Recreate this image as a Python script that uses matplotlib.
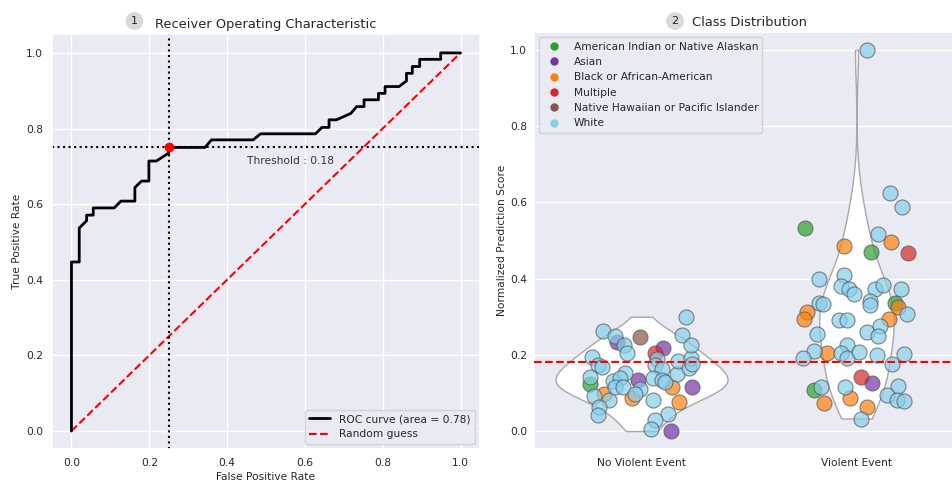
import numpy as np
import pandas as pd
import matplotlib
matplotlib.use('Agg')
import matplotlib.pyplot as plt
import seaborn as sns
from matplotlib.lines import Line2D

sns.set_theme(style='darkgrid')
plt.rcParams['font.family'] = ['DejaVu Sans']

# ROC curve
fpr = [0, 0, 0.02, 0.02, 0.039, 0.039, 0.056, 0.056, 0.11, 0.127, 0.163, 0.163,
       0.18, 0.199, 0.199, 0.218, 0.25, 0.25, 0.343, 0.36, 0.467, 0.486, 0.627,
       0.644, 0.662, 0.662, 0.681, 0.718, 0.733, 0.752, 0.752, 0.789, 0.789,
       0.806, 0.806, 0.842, 0.861, 0.861, 0.876, 0.876, 0.895, 0.895, 0.949,
       0.949, 1.0]
tpr = [0, 0.447, 0.447, 0.537, 0.556, 0.571, 0.571, 0.59, 0.59, 0.608, 0.608,
       0.644, 0.661, 0.661, 0.714, 0.714, 0.735, 0.75, 0.75, 0.77, 0.77, 0.786,
       0.786, 0.803, 0.803, 0.823, 0.823, 0.84, 0.858, 0.858, 0.876, 0.876,
       0.893, 0.893, 0.911, 0.911, 0.926, 0.946, 0.946, 0.964, 0.964, 0.983,
       0.983, 1.0, 1.0]
best_fpr, best_tpr = 0.25, 0.75
threshold = 0.18
auc_label = 'ROC curve (area = 0.78)'

groups = ['No Violent Event', 'Violent Event']
races = ['American Indian or Native Alaskan', 'Asian', 'Black or African-American',
         'Multiple', 'Native Hawaiian or Pacific Islander', 'White']
race_colors = ['#2ca02c', '#7434a6', '#ff7f0e', '#d62728', '#8c564b', '#87ceeb']

# race index: 0 AI/AN, 1 Asian, 2 Black, 3 Multiple, 4 NH/PI, 5 White
no_event_score = [0.262, 0.249, 0.234, 0.225, 0.206, 0.195, 0.173, 0.168, 0.142,
                  0.123, 0.093, 0.096, 0.081, 0.063, 0.043, 0.132, 0.153, 0.139,
                  0.116, 0.116, 0.088, 0.135, 0.247, 0.111, 0.098, 0.204, 0.218,
                  0.190, 0.173, 0.164, 0.139, 0.133, 0.116, 0.129, 0.082, 0.046,
                  0.028, 0.006, 0.000, 0.076, 0.116, 0.149, 0.184, 0.166, 0.193,
                  0.177, 0.252, 0.227, 0.300]
no_event_jitter = [-0.179, -0.124, -0.116, -0.082, -0.067, -0.230, -0.202, -0.182,
                   -0.241, -0.241, -0.222, -0.175, -0.149, -0.199, -0.203, -0.132,
                   -0.078, -0.101, -0.121, -0.085, -0.043, -0.016, -0.008, -0.008,
                   -0.031, 0.061, 0.101, 0.073, 0.065, 0.096, 0.054, 0.096, 0.143,
                   0.110, 0.054, 0.124, 0.065, 0.042, 0.135, 0.174, 0.236, 0.163,
                   0.171, 0.221, 0.231, 0.236, 0.189, 0.231, 0.205]
no_event_race = [5, 5, 1, 5, 5, 5, 5, 5, 5, 0, 5, 2, 5, 5, 5, 5, 5, 5, 5, 5, 2, 1,
                 4, 5, 5, 3, 1, 5, 5, 5, 5, 5, 2, 5, 5, 5, 5, 5, 1, 2, 1, 5, 5, 5,
                 5, 5, 5, 5, 5]

event_score = [1.000, 0.624, 0.587, 0.534, 0.517, 0.497, 0.486, 0.471, 0.466,
               0.398, 0.409, 0.381, 0.373, 0.360, 0.373, 0.383, 0.374, 0.342,
               0.331, 0.337, 0.333, 0.337, 0.326, 0.307, 0.313, 0.293, 0.291,
               0.291, 0.294, 0.256, 0.261, 0.277, 0.249, 0.227, 0.211, 0.191,
               0.204, 0.206, 0.191, 0.208, 0.200, 0.201, 0.175, 0.143, 0.127,
               0.116, 0.109, 0.115, 0.118, 0.094, 0.081, 0.080, 0.073, 0.088,
               0.062, 0.033]
event_jitter = [0.048, 0.156, 0.211, -0.240, 0.102, 0.160, -0.060, 0.066, 0.240,
                -0.175, -0.060, -0.070, -0.034, -0.011, 0.085, 0.121, 0.206, 0.063,
                0.063, -0.174, -0.155, 0.178, 0.191, 0.234, -0.231, -0.244, -0.081,
                -0.045, 0.152, -0.185, 0.051, 0.110, 0.101, -0.042, -0.200, -0.248,
                -0.135, -0.073, -0.045, 0.012, 0.094, 0.219, 0.167, 0.020, 0.071,
                -0.163, -0.200, -0.053, 0.191, 0.144, 0.187, 0.219, -0.153, -0.031,
                0.047, 0.020]
event_race = [5, 5, 5, 0, 5, 2, 2, 0, 3, 5, 5, 5, 5, 5, 5, 5, 5, 5, 5, 5, 5, 0, 2,
              5, 2, 2, 5, 5, 2, 5, 5, 5, 5, 5, 5, 5, 2, 5, 5, 5, 5, 5, 5, 3, 1, 5,
              0, 5, 5, 5, 5, 5, 2, 2, 2, 5]

small = 7.7
fig = plt.figure(figsize=(9.52, 4.84), dpi=100)
ax1 = fig.add_axes([52 / 952, 35 / 484, 428 / 952, 415 / 484])
ax2 = fig.add_axes([534 / 952, 35 / 484, 430 / 952, 417 / 484])

# --- ROC panel
ax1.plot(fpr, tpr, color='black', lw=2, label=auc_label, zorder=3)
ax1.plot([0, 1], [0, 1], color='red', ls='--', lw=1.5, label='Random guess')
ax1.axvline(best_fpr, color='black', ls=':', lw=1.5)
ax1.axhline(best_tpr, color='black', ls=':', lw=1.5)
ax1.plot(best_fpr, best_tpr, 'o', color='red', ms=6, zorder=4)
ax1.text(best_fpr + 0.2, best_tpr - 0.035, f'Threshold : {threshold}', fontsize=small,
         va='center', ha='left', color='#333333')
ax1.set_xlim(-0.05, 1.05)
ax1.set_ylim(-0.0476, 1.05)
ax1.set_xlabel('False Positive Rate', fontsize=small, labelpad=3)
ax1.set_ylabel('True Positive Rate', fontsize=small, labelpad=3)
ax1.set_title('Receiver Operating Characteristic', fontsize=9.4, pad=4)
ax1.tick_params(axis='x', labelsize=small, length=0, pad=6.5)
ax1.tick_params(axis='y', labelsize=small, length=0, pad=6.3)
ax1.legend(loc='lower right', fontsize=small)

# --- class distribution panel
df = pd.DataFrame({
    'group': [groups[0]] * len(no_event_score) + [groups[1]] * len(event_score),
    'score': no_event_score + event_score,
})
sns.violinplot(data=df, x='group', y='score', order=groups, inner=None, cut=0,
               color='white', linecolor='#a8a8a8', linewidth=1, ax=ax2)

for gi, (sc, jit, rc) in enumerate([(no_event_score, no_event_jitter, no_event_race),
                                     (event_score, event_jitter, event_race)]):
    sc, jit, rc = np.array(sc), np.array(jit), np.array(rc)
    for ri, col in enumerate(race_colors):
        m = rc == ri
        ax2.scatter(gi + jit[m], sc[m], s=117, color=col, alpha=0.7,
                    edgecolor='#555555', linewidth=0.8, zorder=3)

ax2.axhline(threshold, color='red', ls='--', lw=1.5, zorder=4)
ax2.set_xlim(-0.5, 1.5)
ax2.set_ylim(-0.047, 1.047)
ax2.set_xlabel('')
ax2.set_ylabel('Normalized Prediction Score', fontsize=small, labelpad=2)
ax2.set_title('Class Distribution', fontsize=9.4, pad=4)
ax2.tick_params(axis='x', labelsize=small, length=0, pad=6.5)
ax2.tick_params(axis='y', labelsize=small, length=0, pad=5)
handles = [Line2D([], [], marker='o', ls='', color=c, markersize=5, label=r)
           for r, c in zip(races, race_colors)]
ax2.legend(handles=handles, loc='upper left', fontsize=small)

for x, y, s in [(134.5, 21, '1'), (675, 21, '2')]:
    fig.text(x / 952, 1 - y / 484, s, ha='center', va='center', fontsize=8,
             color='#222222',
             bbox=dict(boxstyle='circle,pad=0.35', fc='#d9d9d9', ec='none'))

fig.savefig('out.png', dpi=100)
